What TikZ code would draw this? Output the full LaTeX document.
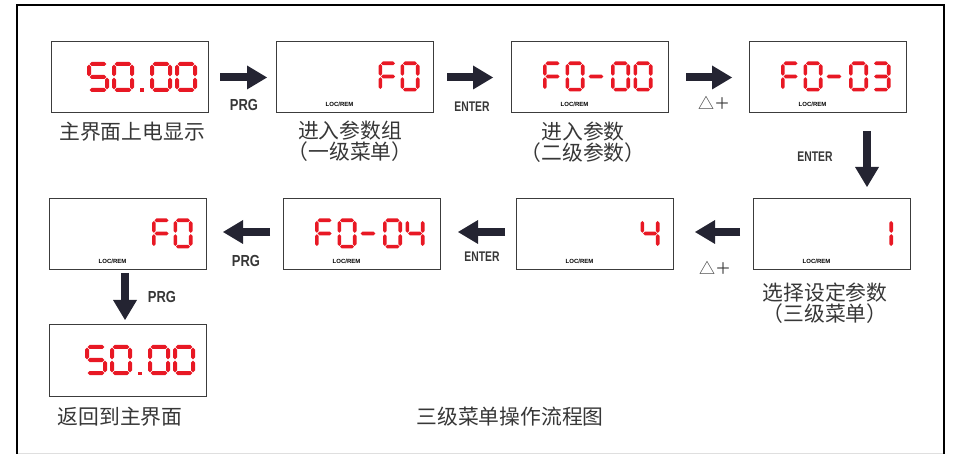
\documentclass[tikz,border=0pt]{standalone}
\usepackage{fontspec}
\usepackage{graphicx}
\usetikzlibrary{arrows.meta,calc}
\newfontfamily\cjk{Noto Sans CJK SC}
\newfontfamily\keyfont{Liberation Sans}
\definecolor{lcdred}{RGB}{232,24,36}
\definecolor{arrowc}{RGB}{36,36,50}
\definecolor{boxc}{RGB}{60,60,60}
\definecolor{txtc}{RGB}{55,55,55}
\def\dW{19}\def\dH{30}\def\dh{1.8}\def\dg{0.7}
\newcommand\lcdh[3]{\fill[lcdred] ({#1+\dg},{#3}) -- ({#1+\dg+\dh},{#3-\dh}) -- ({#2-\dg-\dh},{#3-\dh}) -- ({#2-\dg},{#3}) -- ({#2-\dg-\dh},{#3+\dh}) -- ({#1+\dg+\dh},{#3+\dh}) -- cycle;}
\newcommand\lcdv[3]{\fill[lcdred] ({#1},{#2+\dg}) -- ({#1+\dh},{#2+\dg+\dh}) -- ({#1+\dh},{#3-\dg-\dh}) -- ({#1},{#3-\dg}) -- ({#1-\dh},{#3-\dg-\dh}) -- ({#1-\dh},{#2+\dg+\dh}) -- cycle;}
\def\lcdsega{\lcdh{\dh}{\dW-\dh}{\dh}}
\def\lcdsegg{\lcdh{\dh}{\dW-\dh}{\dH/2}}
\def\lcdsegd{\lcdh{\dh}{\dW-\dh}{\dH-\dh}}
\def\lcdsegf{\lcdv{\dh}{\dh}{\dH/2}}
\def\lcdsege{\lcdv{\dh}{\dH/2}{\dH-\dh}}
\def\lcdsegb{\lcdv{\dW-\dh}{\dh}{\dH/2}}
\def\lcdsegc{\lcdv{\dW-\dh}{\dH/2}{\dH-\dh}}
\newcommand\lcddigit[3]{\begin{scope}[shift={(#1,#2)}]\foreach \s in {#3}{\csname lcdseg\s\endcsname}\end{scope}}
\newcommand\lcddash[2]{\begin{scope}[shift={(#1,#2)}]\lcdh{0}{16}{\dH/2}\end{scope}}
\newcommand\prgtxt{\scalebox{0.81}[1]{\keyfont\bfseries\fontsize{16}{16}\selectfont PRG}}
\newcommand\entertxt{\scalebox{0.74}[1]{\keyfont\bfseries\fontsize{14}{14}\selectfont ENTER}}
\newcommand\uptxt{{\cjk\fontsize{16}{16}\selectfont △＋}}
\tikzset{
 lcdbox/.style={draw=boxc, line width=1pt, minimum width=157pt, minimum height=71pt, anchor=north west, inner sep=0pt, outer sep=0pt},
 blockarrow/.style={draw=arrowc, line width=8pt, -{Triangle[length=20pt 0 0, width=24pt 0 0, line width=0pt 0 0]}},
 keylbl/.style={text=txtc, inner sep=0pt},
 cjklbl/.style={text=txtc, inner sep=0pt, align=center, font=\cjk\fontsize{20.8}{18.8}\selectfont},
 locrem/.style={inner sep=0pt, font=\keyfont\bfseries\fontsize{6}{6}\selectfont},
}
\begin{document}
\begin{tikzpicture}[x=1pt,y=-1pt]
\useasboundingbox (0,0) rectangle (956,454);
% outer frame
\draw[gray!25, line width=0.8pt] (17,453) -- (944,453);
\draw[black, line width=1.5pt] (17,454) -- (17,5) -- (944,5) -- (944,454);
% boxes
\node[lcdbox] (b1) at (51,42) {};
\node[lcdbox] (b2) at (276,42) {};
\node[lcdbox] (b3) at (511,42) {};
\node[lcdbox] (b4) at (749,42) {};
\node[lcdbox] (b8) at (753,199) {};
\node[lcdbox] (b7) at (516,199) {};
\node[lcdbox] (b6) at (283,199) {};
\node[lcdbox] (b5) at (49,199) {};
\node[lcdbox] (b9) at (49,325) {};
% digits
\begin{scope}[shift={(b1.north west)}]
 \def\dW{22}\def\dh{2}
 \lcddigit{36}{20}{a,f,g,c,d}
 \lcddigit{61}{20}{a,b,c,d,e,f}
 \fill[lcdred] (88.5,46.5) rectangle (92.5,50);
 \lcddigit{99}{20}{a,b,c,d,e,f}
 \lcddigit{124}{20}{a,b,c,d,e,f}
\end{scope}
\begin{scope}[shift={(b9.north west)}]
 \def\dW{22}\def\dh{2}
 \lcddigit{36}{20}{a,f,g,c,d}
 \lcddigit{61}{20}{a,b,c,d,e,f}
 \fill[lcdred] (88.5,46.5) rectangle (92.5,50);
 \lcddigit{99}{20}{a,b,c,d,e,f}
 \lcddigit{124}{20}{a,b,c,d,e,f}
\end{scope}
\begin{scope}[shift={(b2.north west)}]
 \lcddigit{102.5}{19.5}{a,f,g,e}
 \lcddigit{124.5}{19.5}{a,b,c,d,e,f}
\end{scope}
\begin{scope}[shift={(b3.north west)}]
 \lcddigit{32}{19.5}{a,f,g,e}
 \lcddigit{54.5}{19.5}{a,b,c,d,e,f}
 \lcddash{77}{19.5}
 \lcddigit{100}{19.5}{a,b,c,d,e,f}
 \lcddigit{122.5}{19.5}{a,b,c,d,e,f}
\end{scope}
\begin{scope}[shift={(b4.north west)}]
 \lcddigit{32}{19.5}{a,f,g,e}
 \lcddigit{54.5}{19.5}{a,b,c,d,e,f}
 \lcddash{77}{19.5}
 \lcddigit{100}{19.5}{a,b,c,d,e,f}
 \lcddigit{122.5}{19.5}{a,b,g,c,d}
\end{scope}
\begin{scope}[shift={(b8.north west)}]
 \lcddigit{121}{19.5}{b,c}
\end{scope}
\begin{scope}[shift={(b7.north west)}]
 \lcddigit{124.5}{19.5}{f,g,b,c}
\end{scope}
\begin{scope}[shift={(b6.north west)}]
 \lcddigit{32}{19.5}{a,f,g,e}
 \lcddigit{54.5}{19.5}{a,b,c,d,e,f}
 \lcddash{77}{19.5}
 \lcddigit{100}{19.5}{a,b,c,d,e,f}
 \lcddigit{122.5}{19.5}{f,g,b,c}
\end{scope}
\begin{scope}[shift={(b5.north west)}]
 \lcddigit{103}{19.5}{a,f,g,e}
 \lcddigit{124.5}{19.5}{a,b,c,d,e,f}
\end{scope}
% LOC/REM
\foreach \b in {b2,b3,b4,b5,b6,b7,b8}{
 \node[locrem] (lr\b) at ([xshift=63.5pt,yshift=8.5pt]\b.south west) {LOC/REM};
}
% arrows
\coordinate (dx1) at (867,0);
\coordinate (dx2) at (125,0);
\draw[blockarrow, shorten <=12pt, shorten >=9pt] (b1.east) -- (b2.west);
\draw[blockarrow, shorten <=14pt, shorten >=18pt] (b2.east) -- (b3.west);
\draw[blockarrow, shorten <=18pt, shorten >=17pt] (b3.east) -- (b4.west);
\draw[blockarrow, shorten <=18pt, shorten >=12pt] (b4.south -| dx1) -- (b8.north -| dx1);
\draw[blockarrow, shorten <=13pt, shorten >=22pt] ([yshift=2.5pt]b8.west) -- ([yshift=2.5pt]b7.east);
\draw[blockarrow, shorten <=11pt, shorten >=18pt] ([yshift=2.5pt]b7.west) -- ([yshift=2.5pt]b6.east);
\draw[blockarrow, shorten <=13pt, shorten >=17pt] ([yshift=2.5pt]b6.west) -- ([yshift=2.5pt]b5.east);
\draw[blockarrow, shorten <=3pt, shorten >=5pt] (b5.south -| dx2) -- (b9.north -| dx2);
% key labels
\node[keylbl] (k1) at (244,105) {\prgtxt};
\node[keylbl] (k2) at (472,107) {\entertxt};
\node[keylbl] (k3) at (714,103) {\uptxt};
\node[keylbl] (k4) at (815,157) {\entertxt};
\node[keylbl] (k5) at (715,268) {\uptxt};
\node[keylbl] (k6) at (482,257) {\entertxt};
\node[keylbl] (k7) at (246,261) {\prgtxt};
\node[keylbl] (k8) at (162,297) {\prgtxt};
% captions
\node[cjklbl] (l1) at (132,132) {主界面上电显示};
\node[cjklbl] (l2) at (350,141) {进入参数组\\（一级菜单）};
\node[cjklbl] (l3) at (583,142) {进入参数\\（二级参数）};
\node[cjklbl] (l4) at (825,303) {选择设定参数\\（三级菜单）};
\node[cjklbl] (l5) at (120,417) {返回到主界面};
\node[cjklbl] (l6) at (510,417) {三级菜单操作流程图};
\end{tikzpicture}
\end{document}
